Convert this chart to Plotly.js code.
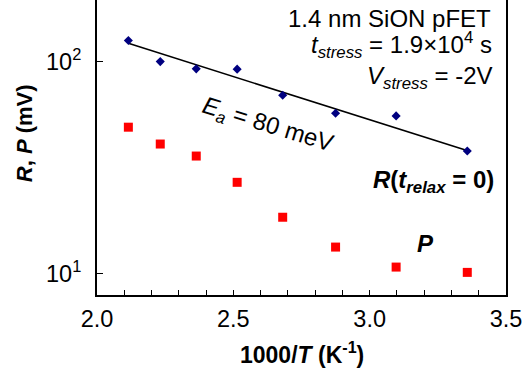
<!DOCTYPE html>
<html>
<head>
<meta charset="utf-8">
<script src="https://cdn.plot.ly/plotly-3.0.1.min.js"></script>
<style>html,body{margin:0;padding:0;background:#fff;}</style>
</head>
<body>
<div id="chart" style="width:523px;height:372px;"></div>
<script>
// 1000/T (K^-1)
const invT = [2.115, 2.232, 2.364, 2.514, 2.681, 2.875, 3.097, 3.358];
// R(t_relax = 0) in mV
const R = [125.7, 100, 92.4, 92.1, 69.3, 57.0, 55.4, 37.8];
// P in mV
const P = [49.0, 40.8, 35.8, 26.9, 18.4, 13.3, 10.7, 10.1];
// Arrhenius fit line (Ea = 80 meV)
const fitX = [2.115, 3.357];
const fitY = [122, 38];
const yTickVals = [10, 100];
const yTickText = ['10<sup>1</sup>', '10<sup>2</sup>'];

const FONT = 'Liberation Sans, Arial, sans-serif';

const traces = [
  {x: fitX, y: fitY, mode: 'lines', line: {color: '#000000', width: 1.6}, hoverinfo: 'skip'},
  {x: invT, y: R, mode: 'markers', marker: {symbol: 'diamond', size: 7, color: '#000080'}},
  {x: invT, y: P, mode: 'markers', marker: {symbol: 'square', size: 9, color: '#FF0000'}}
];

const layout = {
  width: 523, height: 372,
  margin: {l: 97, r: 17, t: 0, b: 77},
  paper_bgcolor: '#ffffff', plot_bgcolor: '#ffffff',
  showlegend: false,
  font: {family: FONT, size: 23, color: '#000'},
  xaxis: {
    range: [2, 3.5], dtick: 0.5, tick0: 2, tickformat: '.1f',
    showgrid: false, zeroline: false,
    showline: true, linecolor: '#000', linewidth: 2,
    ticks: 'inside', ticklen: 5, tickwidth: 1, tickcolor: '#000',
    minor: {dtick: 0.1, ticks: 'inside', ticklen: 5, tickwidth: 1, tickcolor: '#000'},
    tickfont: {family: FONT, size: 23.5, color: '#000'},
    ticklabelstandoff: 2
  },
  yaxis: {
    type: 'log', range: [0.8975, 2.291],
    tickvals: yTickVals, ticktext: yTickText,
    showgrid: false, zeroline: false,
    showline: true, mirror: true, linecolor: '#000', linewidth: 2,
    ticks: 'inside', ticklen: 6, tickwidth: 1, tickcolor: '#000',
    tickfont: {family: FONT, size: 23.5, color: '#000'},
    ticklabelstandoff: 9
  },
  annotations: [
    {xref: 'paper', yref: 'paper', x: 0.968, y: 0.936, xanchor: 'right', yanchor: 'middle',
     text: '1.4 nm SiON pFET', showarrow: false, font: {family: FONT, size: 24}},
    {xref: 'paper', yref: 'paper', x: 0.970, y: 0.846, xanchor: 'right', yanchor: 'middle',
     text: '<i>t<sub>stress</sub></i> = 1.9×10<sup>4</sup> s', showarrow: false, font: {family: FONT, size: 24}},
    {xref: 'paper', yref: 'paper', x: 0.970, y: 0.738, xanchor: 'right', yanchor: 'middle',
     text: '<i>V<sub>stress</sub></i> = -2V', showarrow: false, font: {family: FONT, size: 24}},
    {xref: 'paper', yref: 'paper', x: 0.416, y: 0.576, xanchor: 'center', yanchor: 'middle',
     text: '<i>E<sub>a</sub></i> = 80 meV', textangle: 17, showarrow: false, font: {family: FONT, size: 24}},
    {xref: 'paper', yref: 'paper', x: 0.975, y: 0.385, xanchor: 'right', yanchor: 'middle',
     text: '<b><i>R</i>(<i>t<sub>relax</sub></i> = 0)</b>', showarrow: false, font: {family: FONT, size: 24}},
    {xref: 'paper', yref: 'paper', x: 0.804, y: 0.176, xanchor: 'center', yanchor: 'middle',
     text: '<b><i>P</i></b>', showarrow: false, font: {family: FONT, size: 24}},
    {xref: 'paper', yref: 'paper', x: -0.178, y: 0.549, xanchor: 'center', yanchor: 'middle',
     text: '<b><i>R</i>, <i>P</i> (mV)</b>', textangle: -90, showarrow: false, font: {family: FONT, size: 22}},
    {xref: 'paper', yref: 'paper', x: 0.5, y: -0.197, xanchor: 'center', yanchor: 'middle',
     text: '<b>1000/<i>T</i> (K<sup>-1</sup>)</b>', showarrow: false, font: {family: FONT, size: 23}}
  ]
};

Plotly.newPlot('chart', traces, layout, {displayModeBar: false, staticPlot: true});
</script>
</body>
</html>
